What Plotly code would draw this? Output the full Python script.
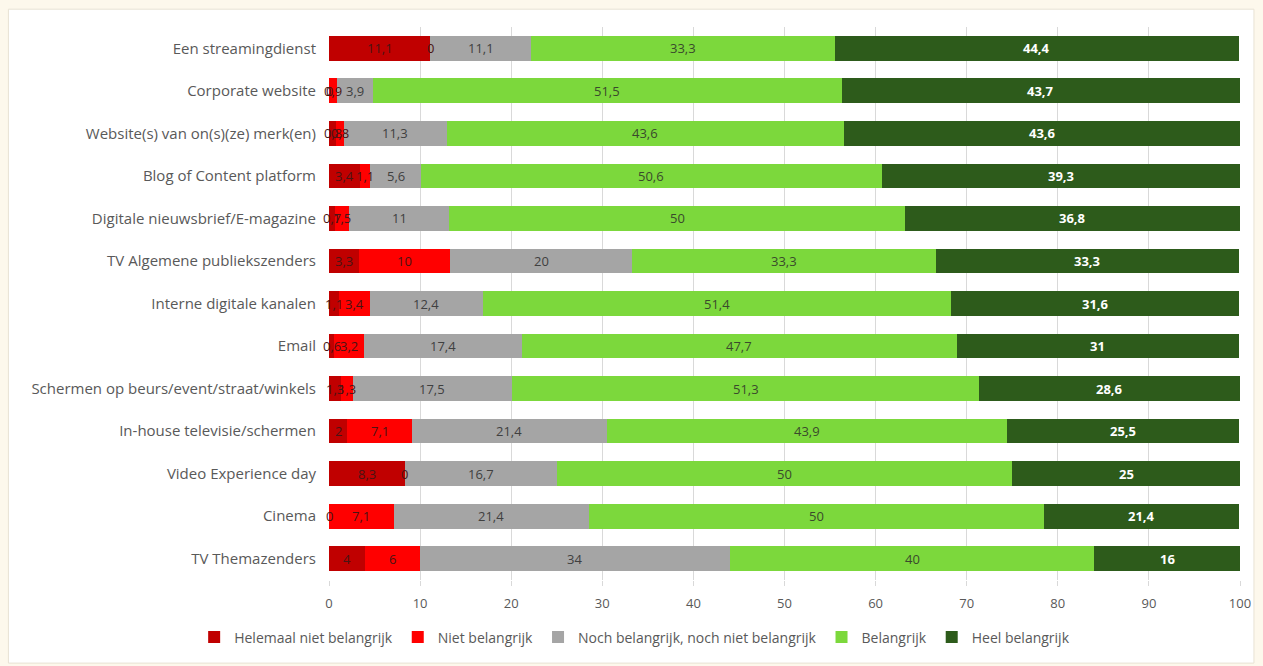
import plotly.graph_objects as go

categories = [
    "Een streamingdienst",
    "Corporate website",
    "Website(s) van on(s)(ze) merk(en)",
    "Blog of Content platform",
    "Digitale nieuwsbrief/E-magazine",
    "TV Algemene publiekszenders",
    "Interne digitale kanalen",
    "Email",
    "Schermen op beurs/event/straat/winkels",
    "In-house televisie/schermen",
    "Video Experience day",
    "Cinema",
    "TV Themazenders",
]

helemaal_niet = [11.1, 0, 0.8, 3.4, 0.7, 3.3, 1.1, 0.6, 1.3, 2, 8.3, 0, 4]
niet = [0, 0.9, 0.8, 1.1, 1.5, 10, 3.4, 3.2, 1.3, 7.1, 0, 7.1, 6]
noch = [11.1, 3.9, 11.3, 5.6, 11, 20, 12.4, 17.4, 17.5, 21.4, 16.7, 21.4, 34]
belangrijk = [33.3, 51.5, 43.6, 50.6, 50, 33.3, 51.4, 47.7, 51.3, 43.9, 50, 50, 40]
heel = [44.4, 43.7, 43.6, 39.3, 36.8, 33.3, 31.6, 31, 28.6, 25.5, 25, 21.4, 16]

series = [
    ("Helemaal niet belangrijk", helemaal_niet, "#C00000", "#4a1414", False),
    ("Niet belangrijk", niet, "#FF0000", "#4a1414", False),
    ("Noch belangrijk, noch niet belangrijk", noch, "#A5A5A5", "#404040", False),
    ("Belangrijk", belangrijk, "#7CD83C", "#3a4a2c", False),
    ("Heel belangrijk", heel, "#2D5B1B", "#FFFFFF", True),
]

tick_vals = list(range(0, 101, 10))

FONT = "'Open Sans', Lato, sans-serif"


def fmt(v):
    return f"{v:g}".replace(".", ",")


fig = go.Figure()
annotations = []
left = [0.0] * len(categories)
for name, vals, color, tcolor, bold in series:
    fig.add_trace(go.Bar(
        name=name, y=categories, x=vals, orientation="h",
        marker=dict(color=color, line=dict(width=0)),
    ))
    # segment values centred on each segment
    for i, v in enumerate(vals):
        txt = fmt(v)
        if bold:
            txt = f"<b>{txt}</b>"
        annotations.append(dict(
            x=left[i] + v / 2, y=categories[i], xref="x", yref="y",
            text=txt, showarrow=False,
            font=dict(family=FONT, size=13, color=tcolor),
        ))
        left[i] += v

L, R, T, B = 329, 19, 27, 80
W, H = 1263, 666
pw, ph = W - L - R, H - T - B

# white panel on cream page
shapes = [dict(
    type="rect", xref="paper", yref="paper", layer="below",
    x0=(7 - L) / pw, x1=(1258 - L) / pw,
    y0=(H - B - 670) / ph, y1=(H - B - 9) / ph,
    fillcolor="#FFFFFF", line=dict(color="#E8E2D4", width=1),
)]

fig.update_layout(
    barmode="stack",
    bargap=0.42,
    width=W, height=H,
    margin=dict(l=L, r=R, t=T, b=B),
    paper_bgcolor="#FDF8EC",
    plot_bgcolor="rgba(0,0,0,0)",
    font=dict(family=FONT, size=13, color="#595959"),
    xaxis=dict(
        range=[0, 100], tickvals=tick_vals, showgrid=True,
        gridcolor="#D9D9D9", gridwidth=1, zeroline=False,
        ticks="outside", ticklen=5, tickcolor="#D9D9D9",
        ticklabelstandoff=6,
        tickfont=dict(size=13, color="#595959"), showline=False,
    ),
    yaxis=dict(
        autorange="reversed", ticks="", ticklen=0, ticklabelstandoff=12,
        tickfont=dict(size=15, color="#595959"), showline=False,
    ),
    legend=dict(
        orientation="h", x=(636 - L) / pw, xanchor="center",
        y=-0.075, yanchor="top", font=dict(size=14, color="#595959"),
        bgcolor="rgba(0,0,0,0)", traceorder="normal", itemwidth=30,
    ),
    annotations=annotations,
    shapes=shapes,
)

fig.write_html("out.html")
